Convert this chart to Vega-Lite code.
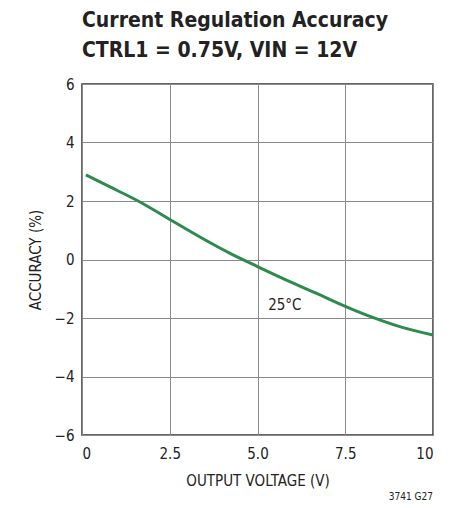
{
  "$schema": "https://vega.github.io/schema/vega-lite/v6.json",
  "width": 351,
  "height": 351,
  "autosize": {"type": "none"},
  "padding": {"left": 82, "top": 84, "right": 31, "bottom": 73},
  "background": "white",
  "config": {
    "font": "DejaVu Sans Condensed",
    "view": {"stroke": "#333333", "strokeWidth": 1.5},
    "axis": {"grid": true, "gridColor": "#8a8a8a", "gridWidth": 1, "domain": false, "ticks": false,
      "labelFont": "DejaVu Sans Condensed", "labelFontSize": 15, "labelColor": "#222",
      "titleFont": "DejaVu Sans Condensed", "titleFontSize": 15, "titleFontWeight": "normal", "titleColor": "#222"}
  },
  "title": {
    "text": ["Current Regulation Accuracy", "CTRL1 = 0.75V, VIN = 12V"],
    "anchor": "start",
    "frame": "group",
    "font": "DejaVu Sans Condensed",
    "fontSize": 21,
    "fontWeight": "bold",
    "color": "#222",
    "lineHeight": 30,
    "offset": 16
  },
  "data": {"values": [
    {"v": 0.11, "acc": 2.89},
    {"v": 0.8, "acc": 2.48},
    {"v": 1.6, "acc": 2.0},
    {"v": 2.5, "acc": 1.37},
    {"v": 3.36, "acc": 0.77},
    {"v": 4.22, "acc": 0.21},
    {"v": 5.0, "acc": -0.24},
    {"v": 6.02, "acc": -0.81},
    {"v": 6.78, "acc": -1.21},
    {"v": 7.5, "acc": -1.6},
    {"v": 8.4, "acc": -2.03},
    {"v": 9.15, "acc": -2.33},
    {"v": 10.0, "acc": -2.58}
  ]},
  "layer": [
    {
      "mark": {"type": "line", "color": "#2e8b4e", "strokeWidth": 3, "interpolate": "monotone"},
      "encoding": {
        "x": {"field": "v", "type": "quantitative", "scale": {"domain": [0, 10], "nice": false},
          "axis": {"values": [0, 2.5, 5, 7.5, 10], "title": "OUTPUT VOLTAGE (V)", "labelPadding": 11, "titlePadding": 12,
            "labelExpr": "datum.value == 0 ? '0' : datum.value == 10 ? '10' : format(datum.value, '.1f')"}},
        "y": {"field": "acc", "type": "quantitative", "scale": {"domain": [-6, 6], "nice": false},
          "axis": {"values": [-6, -4, -2, 0, 2, 4, 6], "title": "ACCURACY (%)", "labelPadding": 8, "titlePadding": 11,
            "labelExpr": "replace(datum.label, '-', '−')"}}
      }
    },
    {
      "data": {"values": [{"v": 5.78, "acc": -1.55, "t": "25°C"}]},
      "mark": {"type": "text", "fontSize": 15, "color": "#222", "font": "DejaVu Sans Condensed"},
      "encoding": {
        "x": {"field": "v", "type": "quantitative"},
        "y": {"field": "acc", "type": "quantitative"},
        "text": {"field": "t"}
      }
    },
    {
      "data": {"values": [{"v": 10, "acc": -6, "t": "3741 G27"}]},
      "mark": {"type": "text", "fontSize": 10, "color": "#222", "align": "right", "dx": 0, "dy": 62, "font": "DejaVu Sans Condensed"},
      "encoding": {
        "x": {"field": "v", "type": "quantitative"},
        "y": {"field": "acc", "type": "quantitative"},
        "text": {"field": "t"}
      }
    }
  ]
}
